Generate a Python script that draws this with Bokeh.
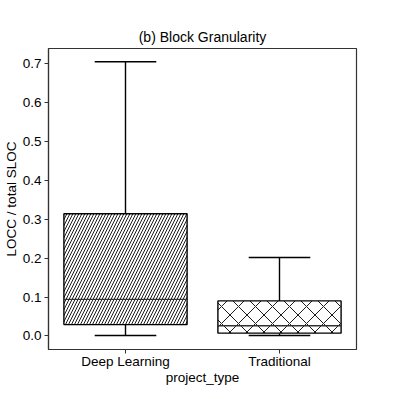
from bokeh.plotting import figure
from bokeh.models import ColumnDataSource, FactorRange, Range1d, FixedTicker, PrintfTickFormatter
from bokeh.transform import dodge
from bokeh.embed import file_html
from bokeh.resources import INLINE

categories = ["Deep Learning", "Traditional"]
q1 = [0.029, 0.007]
median = [0.094, 0.026]
q3 = [0.314, 0.090]
whisker_low = [0.001, 0.001]
whisker_high = [0.705, 0.2015]
y_ticks = [0.0, 0.1, 0.2, 0.3, 0.4, 0.5, 0.6, 0.7]

FONT = "Liberation Sans"
hatch_styles = {"Deep Learning": ("/", 6), "Traditional": ("x", 17)}

src = ColumnDataSource(dict(cat=categories, q1=q1, med=median, q3=q3,
                            lo=whisker_low, hi=whisker_high))

p = figure(x_range=FactorRange(*categories), y_range=Range1d(-0.035, 0.739),
           frame_width=308, frame_height=301, output_backend="svg", toolbar_location=None,
           title="(b) Block Granularity", min_border_left=42, min_border_right=25,
           min_border_top=48, min_border_bottom=34)

# whiskers
p.segment(x0="cat", y0="q3", x1="cat", y1="hi", source=src, line_color="black", line_width=1.4)
p.segment(x0="cat", y0="lo", x1="cat", y1="q1", source=src, line_color="black", line_width=1.4)
p.segment(x0=dodge("cat", -0.2, range=p.x_range), y0="hi", x1=dodge("cat", 0.2, range=p.x_range), y1="hi",
          source=src, line_color="black", line_width=1.4)
p.segment(x0=dodge("cat", -0.2, range=p.x_range), y0="lo", x1=dodge("cat", 0.2, range=p.x_range), y1="lo",
          source=src, line_color="black", line_width=1.4)
# boxes
for i, c in enumerate(categories):
    pat, sc = hatch_styles[c]
    p.vbar(x=[c], top=[q3[i]], bottom=[q1[i]], width=0.8, fill_color="white",
           line_color="black", line_width=1.4, hatch_pattern=pat, hatch_color="black",
           hatch_scale=sc, hatch_weight=0.9)
# median
p.segment(x0=dodge("cat", -0.4, range=p.x_range), y0="med", x1=dodge("cat", 0.4, range=p.x_range), y1="med",
          source=src, line_color="#333333", line_width=1.4)

p.title.align = "center"
p.title.text_font = FONT
p.title.text_font_size = "14px"
p.title.text_font_style = "normal"
p.title.text_color = "black"
p.title.standoff = 7

p.grid.visible = False
p.outline_line_color = "#333333"
p.outline_line_width = 1.2

for ax in (p.xaxis[0], p.yaxis[0]):
    ax.axis_line_color = "#333333"
    ax.axis_line_width = 1.2
    ax.major_tick_line_color = "#333333"
    ax.major_tick_out = 4
    ax.major_tick_in = 0
    ax.minor_tick_line_color = None
    ax.major_label_text_font = FONT
    ax.major_label_text_font_size = "13.5px"
    ax.major_label_text_color = "black"
    ax.axis_label_text_font = FONT
    ax.axis_label_text_font_size = "13.5px"
    ax.axis_label_text_font_style = "normal"
    ax.axis_label_text_color = "black"

p.yaxis.ticker = FixedTicker(ticks=y_ticks)
p.yaxis.formatter = PrintfTickFormatter(format="%.1f")
p.yaxis.axis_label = "LOCC / total SLOC"
p.xaxis.axis_label = "project_type"
p.yaxis.major_label_standoff = 3
p.xaxis.major_label_standoff = 0
p.xaxis.axis_label_standoff = -2
p.yaxis.axis_label_standoff = 1

open("out.html", "w").write(file_html(p, INLINE))
